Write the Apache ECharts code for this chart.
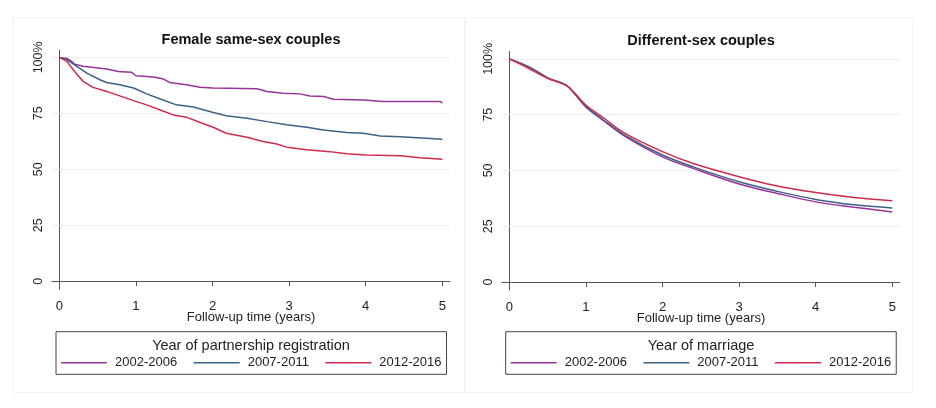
<!DOCTYPE html>
<html>
<head>
<meta charset="utf-8">
<script src="https://cdn.jsdelivr.net/npm/echarts@6/dist/echarts.min.js"></script>
<style>
html,body{margin:0;padding:0;background:#fff;}
#c{width:936px;height:408px;}
</style>
</head>
<body>
<div id="c"></div>
<script>
// ---- data ----
const xTicks = [0, 1, 2, 3, 4, 5];
const yTicks = [0, 25, 50, 75, 100];
const gridValues = [25, 50, 75, 100];
const seriesNames = ['2002-2006', '2007-2011', '2012-2016'];

// Female same-sex couples (Kaplan-Meier)
const femT1 = [0,0.1,0.16,0.2,0.31,0.62,0.77,0.94,1.0,1.23,1.36,1.44,1.66,1.84,2.0,2.58,2.71,2.92,3.14,3.27,3.45,3.58,3.97,4.23,4.97,5.0];
const femV1 = [100,99.5,98.2,97,96,94.8,93.7,93.4,91.8,91.2,90.3,88.8,87.8,86.7,86.3,86,84.8,84,83.7,82.8,82.5,81.3,81,80.3,80.3,79.6];
const femT2 = [0,0.1,0.23,0.36,0.53,0.62,0.79,0.97,1.14,1.31,1.53,1.75,2.01,2.18,2.45,2.71,2.97,3.23,3.45,3.75,3.97,4.19,4.45,4.79,5.0];
const femV2 = [100,99,96,93,90,88.8,87.8,86.3,83.7,81.5,78.8,77.8,75.4,73.9,72.8,71.3,69.9,68.8,67.6,66.4,66.1,64.9,64.6,63.9,63.4];
const femT3 = [0,0.1,0.2,0.31,0.44,0.62,0.79,0.97,1.14,1.31,1.49,1.66,1.84,2.01,2.18,2.45,2.66,2.84,2.97,3.23,3.53,3.75,4.01,4.45,4.71,5.0];
const femV3 = [100,98.2,93.7,89.3,86.6,84.8,82.8,80.7,78.8,76.6,74.3,73.3,70.9,68.8,66.1,64.3,62.4,61.3,59.9,58.7,57.9,56.9,56.4,56.1,55.2,54.5];

// Different-sex couples
const difT = [0,0.25,0.5,0.74,0.85,1.0,1.23,1.5,2.0,2.4,3.0,3.5,4.0,4.5,5.0];
const difV1 = [100,96.5,91.5,88.2,84.5,78.5,72.3,65.5,56.1,50.9,43.9,39.7,35.9,33.5,31.4];
const difV2 = [100,96.5,91.5,88.2,84.5,78.6,72.6,65.9,56.9,51.6,44.9,40.6,37.0,34.6,33.2];
const difV3 = [100,95.8,91.3,88.2,84.8,79.3,73.6,66.8,58.4,53.1,47.2,43.0,40.1,37.9,36.4];

const titles = ['Female same-sex couples', 'Different-sex couples'];
const legendTitles = ['Year of partnership registration', 'Year of marriage'];
const xName = 'Follow-up time (years)';

// ---- styles ----
const colors = ['#993399', '#3c6185', '#d22a4d'];
const FONT = '"Liberation Sans", Arial, sans-serif';
const zip = (t, v) => t.map((x, i) => [x, v[i]]);

function xAxis(gi) {
  return {
    type: 'value', gridIndex: gi, min: -0.095, max: 5.1,
    name: xName, nameLocation: 'middle', nameGap: 22, nameMoveOverlap: false,
    nameTextStyle: { color: '#222', fontSize: 13, fontFamily: FONT },
    axisLine: { show: true, lineStyle: { color: '#555', width: 1 } },
    axisTick: { show: true, length: 5, customValues: xTicks, lineStyle: { color: '#555' } },
    axisLabel: { customValues: xTicks, color: '#222', fontSize: 13, fontFamily: FONT, margin: 11 },
    splitLine: { show: false }
  };
}
function yAxis(gi) {
  return {
    type: 'value', gridIndex: gi, min: -3.6, max: 103.3,
    axisLine: { show: true, lineStyle: { color: '#555', width: 1 } },
    axisTick: { show: true, length: 5, customValues: yTicks, lineStyle: { color: '#555' } },
    axisLabel: {
      customValues: yTicks, rotate: 90, color: '#222', fontSize: 12.5, fontFamily: FONT, margin: 7,
      formatter: v => v === 100 ? '100%' : String(v)
    },
    splitLine: { show: false }
  };
}
function gridSeries(gi) {
  return {
    type: 'line', name: 'grid' + gi, data: [], xAxisIndex: gi, yAxisIndex: gi,
    showSymbol: false, animation: false, z: 1, silent: true,
    markLine: {
      silent: true, symbol: 'none', animation: false, z: 1,
      label: { show: false },
      lineStyle: { color: '#eceef0', width: 1, type: 'solid' },
      data: gridValues.map(v => ({ yAxis: v }))
    }
  };
}
function lineSeries(name, data, ci, gi, smooth) {
  return {
    type: 'line', name, data, xAxisIndex: gi, yAxisIndex: gi,
    showSymbol: false, symbol: 'none', smooth: smooth, animation: false,
    lineStyle: { color: colors[ci], width: 1.5 },
    itemStyle: { color: colors[ci] },
    z: 3
  };
}
function legend(left) {
  return {
    left: left, top: 331.7, orient: 'horizontal',
    padding: [24, 5, 4.6, 5],
    borderColor: '#444', borderWidth: 1,
    icon: 'rect',
    itemWidth: 46, itemHeight: 1.5, itemGap: 16.5,
    selectedMode: false,
    textStyle: { color: '#222', fontSize: 13, lineHeight: 14, fontFamily: FONT, padding: [0, 0, 0, 3] },
    data: seriesNames.map(n => ({ name: n }))
  };
}

const chart = echarts.init(document.getElementById('c'), null, { renderer: 'canvas' });

const option = {
  backgroundColor: '#fff',
  animation: false,
  grid: [
    { left: 52, top: 50, width: 398, height: 239.3 },
    { left: 502, top: 51.5, width: 398, height: 238.5 }
  ],
  xAxis: [xAxis(0), xAxis(1)],
  yAxis: [yAxis(0), yAxis(1)],
  legend: [legend(56), legend(505.7)],
  series: [
    gridSeries(0),
    gridSeries(1),
    lineSeries(seriesNames[0], zip(femT1, femV1), 0, 0, false),
    lineSeries(seriesNames[1], zip(femT2, femV2), 1, 0, false),
    lineSeries(seriesNames[2], zip(femT3, femV3), 2, 0, false),
    lineSeries(seriesNames[0], zip(difT, difV1), 0, 1, 0.35),
    lineSeries(seriesNames[1], zip(difT, difV2), 1, 1, 0.35),
    lineSeries(seriesNames[2], zip(difT, difV3), 2, 1, 0.35)
  ],
  graphic: [
    { type: 'rect', shape: { x: 13.5, y: 17.5, width: 451, height: 375 }, style: { fill: 'none', stroke: '#f3f3f3', lineWidth: 1 }, silent: true, z: -1 },
    { type: 'rect', shape: { x: 465.5, y: 17.5, width: 447, height: 375 }, style: { fill: 'none', stroke: '#f3f3f3', lineWidth: 1 }, silent: true, z: -1 },
    { type: 'text', x: 251, y: 40, style: { text: titles[0], fill: '#111', font: 'bold 14.5px ' + FONT, textAlign: 'center', textVerticalAlign: 'middle' } },
    { type: 'text', x: 701, y: 41, style: { text: titles[1], fill: '#111', font: 'bold 14.5px ' + FONT, textAlign: 'center', textVerticalAlign: 'middle' } },
    { type: 'text', x: 251, y: 345.7, style: { text: legendTitles[0], fill: '#222', font: '14.5px ' + FONT, textAlign: 'center', textVerticalAlign: 'middle' }, z: 100 },
    { type: 'text', x: 701, y: 346, style: { text: legendTitles[1], fill: '#222', font: '14.5px ' + FONT, textAlign: 'center', textVerticalAlign: 'middle' }, z: 100 }
  ]
};
chart.setOption(option);
</script>
</body>
</html>
